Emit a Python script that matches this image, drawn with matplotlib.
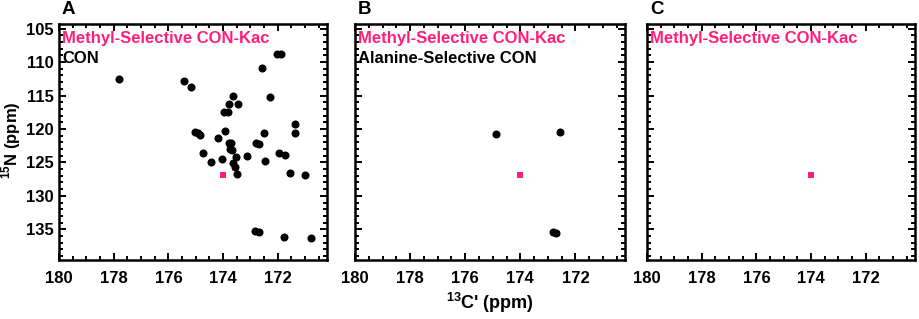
import matplotlib
matplotlib.use('Agg')
import matplotlib.pyplot as plt
from matplotlib.ticker import MultipleLocator

plt.rcParams['font.family'] = ['Liberation Sans', 'DejaVu Sans']
plt.rcParams['font.weight'] = 'bold'
plt.rcParams['mathtext.fontset'] = 'custom'
plt.rcParams['mathtext.rm'] = 'Liberation Sans:bold'
plt.rcParams['mathtext.bf'] = 'Liberation Sans:bold'

PINK = '#ff1f7a'

# CON peaks (13C', 15N) in ppm
con_c = [177.80, 175.43, 175.17, 173.63, 173.78, 173.47, 173.98, 173.83,
         172.57, 172.28, 175.04, 174.93, 174.86, 173.92, 174.18, 173.80,
         173.70, 173.73, 173.67, 173.54, 174.72, 174.44, 174.05, 173.62,
         173.56, 173.48, 173.11, 172.81, 172.70, 172.51, 172.48, 171.95,
         171.72, 171.38, 171.38, 171.55, 170.99, 172.83, 172.68, 171.79,
         170.79, 172.02, 171.87]
con_n = [112.56, 112.79, 113.78, 115.10, 116.33, 116.28, 117.46, 117.42,
         110.88, 115.29, 120.45, 120.60, 120.85, 120.30, 121.39, 122.17,
         122.17, 123.06, 123.16, 124.13, 123.54, 125.01, 124.53, 125.07,
         125.66, 126.69, 124.09, 122.03, 122.30, 120.55, 124.72, 123.54,
         123.90, 119.33, 120.60, 126.63, 126.89, 135.28, 135.47, 136.21,
         136.31, 108.77, 108.77]

# Alanine-selective CON peaks
ala_c = [174.88, 172.55, 172.83, 172.69]
ala_n = [120.68, 120.45, 135.43, 135.53]

# Methyl-selective CON-Kac peak
kac_c = [174.00]
kac_n = [126.90]

W, H = 920, 319
fig = plt.figure(figsize=(W / 100, H / 100), dpi=100)

panels = [
    ('A', 59, 268, 'CON', con_c, con_n),
    ('B', 355, 270, 'Alanine-Selective CON', ala_c, ala_n),
    ('C', 647, 268, None, None, None),
]

top, bottom = 24, 260
for letter, left, width, label2, xs, ys in panels:
    ax = fig.add_axes([left / W, 1 - bottom / H, width / W, (bottom - top) / H])
    if xs is not None:
        ax.plot(xs, ys, 'o', color='black', markersize=5.8, markeredgewidth=0)
    ax.plot(kac_c, kac_n, 's', color=PINK, markersize=4.2, markeredgewidth=0)

    ax.set_xlim(180, 170.2)
    ax.set_ylim(139.6, 104.3)
    ax.xaxis.set_minor_locator(MultipleLocator(0.5))
    ax.yaxis.set_minor_locator(MultipleLocator(1))
    ax.set_xticks([180, 178, 176, 174, 172])
    ax.set_yticks([105, 110, 115, 120, 125, 130, 135])
    ax.tick_params(which='both', direction='in', top=True, right=True, width=1.4)
    ax.tick_params(which='major', length=5)
    ax.tick_params(which='minor', length=3)
    ax.tick_params(axis='x', labelsize=12, pad=8)
    ax.tick_params(axis='y', labelsize=12, pad=4)
    if letter != 'A':
        ax.set_yticklabels([])
    for s in ax.spines.values():
        s.set_linewidth(1.8)

    ax.text(0.012, 0.94, 'Methyl-Selective CON-Kac', color=PINK, fontsize=12,
            fontweight='bold', transform=ax.transAxes, va='center', ha='left')
    if label2:
        ax.text(0.012, 0.852, label2, color='black', fontsize=12,
                fontweight='bold', transform=ax.transAxes, va='center', ha='left')

    fig.text((left + 3) / W, 1 - 9 / H, letter, fontsize=13.5, fontweight='bold',
             va='center', ha='left')

fig.text(490 / W, 1 - 303 / H, "$^{13}$C' (ppm)", fontsize=13, fontweight='bold',
         ha='center', va='center')
fig.text(11 / W, 1 - 140 / H, "$^{15}$N (ppm)", fontsize=12, fontweight='bold',
         ha='center', va='center', rotation=90)

fig.savefig('out.png', dpi=100)
